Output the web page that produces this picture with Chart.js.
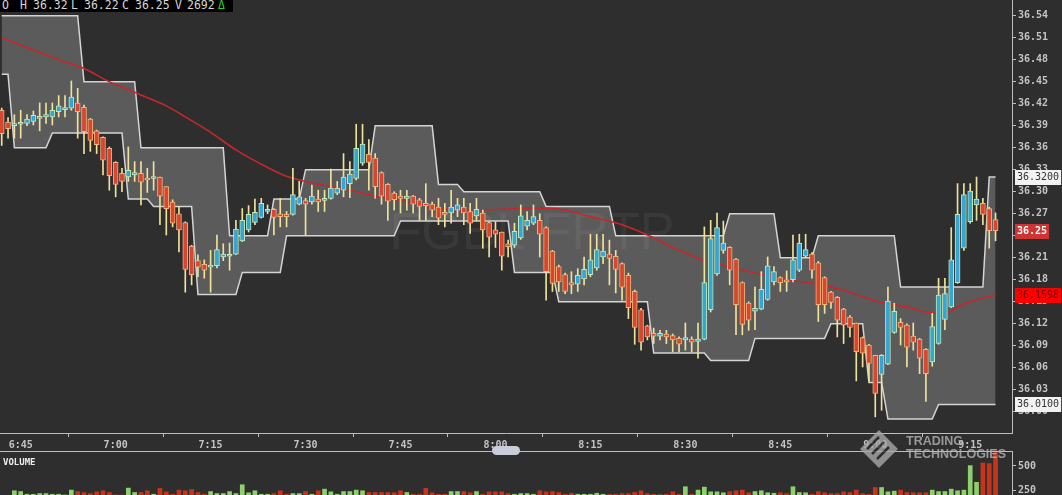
<!DOCTYPE html>
<html>
<head>
<meta charset="utf-8">
<script src="https://cdn.jsdelivr.net/npm/chart.js@4.4.1/dist/chart.umd.min.js"></script>
<style>
  html, body { margin: 0; padding: 0; background: #2e2e2e; overflow: hidden; }
  #wrap { position: relative; width: 1062px; height: 495px; }
  #main { position: absolute; left: 0; top: 0; }
  #vol { position: absolute; left: 0; top: 451px; }
  #hdr { position: absolute; left: 0; top: 0; width: 233px; height: 12px; background: #000;
         font: 11.5px "DejaVu Sans Mono", monospace; color: #d6d6d6; }
  #hdr span { position: absolute; top: -1px; line-height: 13px; }
  #handle { position: absolute; left: 492px; top: 446px; width: 28px; height: 9px;
            border-radius: 5px; background: #c9ccd9; }
  #logo { position: absolute; left: 860px; top: 430px; opacity: 0.8; }
  #logo div { position: absolute; left: 46px; top: 5px; font: bold 12.5px "Liberation Sans", sans-serif;
              color: #b4b4b4; line-height: 13px; white-space: nowrap; }
</style>
</head>
<body>
<div id="wrap">
  <canvas id="main" width="1062" height="451"></canvas>
  <canvas id="vol" width="1062" height="44"></canvas>
  <div id="hdr">
    <span style="left:2px">O</span><span style="left:20px">H</span><span style="left:33px">36.32</span>
    <span style="left:71px">L</span><span style="left:84px">36.22</span><span style="left:122px">C</span>
    <span style="left:135px">36.25</span><span style="left:175px">V</span><span style="left:187px">2692</span>
    <span style="left:218px;color:#33cc33">&Delta;</span>
  </div>
  <div id="handle"></div>
  <div id="logo">
    <svg width="40" height="40" viewBox="0 0 40 40">
      <polygon points="19,0 38,19 19,38 0,19" fill="#a8a8a8"/>
      <path d="M7 19 L19 7 M12 24 L24 12 M17 29 L29 17" stroke="#2e2e2e" stroke-width="2.5"/>
    </svg>
    <div>TRADING<br>TECHNOLOGIES</div>
  </div>
</div>
<script>
// one-minute bars starting at this time
const firstBar = '6:42';

const opens = [
  36.411,36.395,36.390,36.392,36.393,36.396,36.400,36.402,36.402,36.409,
  36.412,36.414,36.421,36.415,36.399,36.383,36.374,36.359,36.340,36.325,
  36.320,36.323,36.325,36.318,36.318,36.320,36.307,36.286,36.270,36.258,
  36.226,36.206,36.201,36.197,36.199,36.211,36.212,36.215,36.233,36.248,
  36.258,36.265,36.273,36.276,36.270,36.269,36.269,36.283,36.288,36.286,
  36.290,36.288,36.291,36.298,36.302,36.311,36.318,36.339,36.351,36.346,
  36.326,36.310,36.298,36.294,36.291,36.294,36.289,36.284,36.283,36.279,
  36.272,36.271,36.275,36.279,36.273,36.267,36.271,36.258,36.248,36.245,
  36.229,36.227,36.237,36.253,36.257,36.261,36.251,36.219,36.198,36.187,
  36.176,36.174,36.181,36.187,36.196,36.211,36.215,36.212,36.202,36.186,
  36.164,36.139,36.117,36.107,36.103,36.106,36.104,36.100,36.098,36.099,
  36.096,36.099,36.139,36.188,36.220,36.224,36.208,36.176,36.148,36.137,
  36.140,36.153,36.177,36.183,36.180,36.180,36.193,36.212,36.215,36.203,
  36.183,36.163,36.156,36.140,36.129,36.121,36.101,36.091,36.077,36.051,
  36.065,36.108,36.122,36.118,36.103,36.099,36.085,36.068,36.093,36.126,
  36.143,36.176,36.223,36.259,36.282,36.284,36.277,36.262
];
const highs = [
  36.414,36.401,36.405,36.411,36.405,36.410,36.421,36.421,36.421,36.431,
  36.431,36.451,36.441,36.418,36.400,36.384,36.375,36.361,36.341,36.332,
  36.361,36.341,36.341,36.332,36.341,36.320,36.307,36.289,36.280,36.259,
  36.227,36.214,36.207,36.220,36.241,36.229,36.230,36.261,36.277,36.281,
  36.290,36.291,36.282,36.277,36.291,36.273,36.332,36.314,36.291,36.309,
  36.302,36.302,36.331,36.314,36.352,36.341,36.392,36.392,36.371,36.352,
  36.327,36.311,36.300,36.302,36.302,36.295,36.291,36.311,36.286,36.291,
  36.284,36.302,36.291,36.291,36.284,36.291,36.275,36.259,36.259,36.245,
  36.234,36.257,36.282,36.273,36.282,36.270,36.252,36.220,36.200,36.189,
  36.191,36.195,36.211,36.242,36.242,36.242,36.234,36.220,36.203,36.189,
  36.166,36.141,36.118,36.114,36.111,36.111,36.106,36.102,36.121,36.102,
  36.121,36.252,36.261,36.271,36.260,36.225,36.209,36.177,36.150,36.170,
  36.191,36.211,36.198,36.184,36.192,36.241,36.242,36.242,36.217,36.205,
  36.184,36.164,36.157,36.141,36.131,36.121,36.102,36.092,36.077,36.078,
  36.170,36.148,36.127,36.120,36.121,36.100,36.086,36.134,36.182,36.182,
  36.251,36.311,36.311,36.311,36.320,36.291,36.279,36.271
];
const lows = [
  36.363,36.373,36.373,36.373,36.390,36.391,36.383,36.393,36.391,36.402,
  36.402,36.411,36.373,36.352,36.355,36.352,36.323,36.302,36.293,36.300,
  36.314,36.314,36.282,36.299,36.302,36.255,36.241,36.252,36.218,36.163,
  36.173,36.184,36.182,36.163,36.196,36.206,36.193,36.214,36.232,36.245,
  36.255,36.264,36.270,36.241,36.252,36.252,36.268,36.282,36.241,36.283,
  36.273,36.273,36.290,36.296,36.293,36.292,36.316,36.336,36.302,36.291,
  36.283,36.261,36.275,36.271,36.275,36.271,36.261,36.261,36.266,36.255,
  36.252,36.257,36.266,36.255,36.243,36.261,36.223,36.211,36.224,36.193,
  36.211,36.224,36.235,36.248,36.255,36.211,36.152,36.164,36.164,36.161,
  36.161,36.164,36.173,36.184,36.193,36.202,36.173,36.162,36.152,36.127,
  36.092,36.084,36.098,36.093,36.098,36.093,36.082,36.082,36.084,36.082,
  36.073,36.098,36.136,36.186,36.216,36.173,36.105,36.105,36.111,36.112,
  36.139,36.152,36.173,36.164,36.164,36.177,36.191,36.210,36.182,36.123,
  36.134,36.141,36.102,36.093,36.102,36.042,36.061,36.042,35.993,36.002,
  36.064,36.107,36.091,36.061,36.084,36.052,36.014,36.062,36.092,36.112,
  36.142,36.175,36.220,36.257,36.261,36.255,36.223,36.233
];
const closes = [
  36.379,36.386,36.392,36.394,36.399,36.404,36.402,36.405,36.411,36.417,
  36.414,36.429,36.409,36.382,36.370,36.364,36.343,36.322,36.310,36.314,
  36.329,36.326,36.313,36.316,36.320,36.294,36.277,36.257,36.248,36.194,
  36.187,36.197,36.193,36.200,36.221,36.215,36.214,36.249,36.261,36.269,
  36.272,36.284,36.276,36.265,36.266,36.266,36.296,36.293,36.283,36.294,
  36.286,36.291,36.305,36.305,36.320,36.324,36.359,36.365,36.340,36.307,
  36.294,36.287,36.289,36.291,36.294,36.283,36.280,36.281,36.275,36.264,
  36.269,36.279,36.282,36.271,36.257,36.276,36.248,36.238,36.242,36.212,
  36.225,36.246,36.267,36.261,36.266,36.242,36.191,36.175,36.177,36.164,
  36.173,36.186,36.194,36.207,36.221,36.219,36.209,36.194,36.170,36.142,
  36.115,36.095,36.102,36.103,36.107,36.102,36.098,36.092,36.101,36.095,
  36.099,36.176,36.236,36.251,36.230,36.193,36.146,36.119,36.125,36.141,
  36.167,36.199,36.191,36.176,36.177,36.207,36.230,36.221,36.193,36.146,
  36.146,36.149,36.125,36.118,36.115,36.082,36.080,36.066,36.025,36.077,
  36.151,36.137,36.115,36.088,36.095,36.073,36.052,36.116,36.159,36.161,
  36.207,36.269,36.296,36.301,36.290,36.269,36.247,36.247
];
const volumes = [
  190,195,242,234,206,206,213,213,206,206,
  198,249,234,224,213,231,242,224,199,198,
  270,224,224,242,206,267,231,206,249,242,
  255,224,206,234,213,213,234,213,305,221,
  242,206,206,213,242,206,213,213,234,206,
  242,259,231,206,234,234,249,242,224,224,
  224,224,221,242,224,206,206,267,221,206,
  206,234,234,234,221,234,206,231,231,231,
  213,206,213,213,206,242,231,234,224,206,
  216,206,206,206,216,206,206,206,213,213,
  224,242,213,206,198,206,231,206,284,206,
  249,280,231,231,221,234,242,249,221,234,
  242,221,216,221,213,284,224,221,206,234,
  221,213,213,231,224,249,213,205,276,276,
  231,238,249,224,221,221,221,249,234,234,
  259,242,249,504,330,532,525,650
];
const bandUpper = [
  36.54,36.54,36.54,36.54,36.54,36.54,36.54,36.54,36.54,36.54,
  36.54,36.54,36.54,36.45,36.45,36.45,36.45,36.45,36.45,36.45,
  36.45,36.45,36.36,36.36,36.36,36.36,36.36,36.36,36.36,36.36,
  36.36,36.36,36.36,36.36,36.36,36.36,36.24,36.24,36.24,36.24,
  36.24,36.24,36.24,36.29,36.29,36.29,36.29,36.29,36.33,36.33,
  36.33,36.33,36.33,36.33,36.33,36.33,36.33,36.33,36.33,36.39,
  36.39,36.39,36.39,36.39,36.39,36.39,36.39,36.39,36.39,36.31,
  36.31,36.31,36.31,36.30,36.30,36.30,36.30,36.30,36.30,36.30,
  36.30,36.30,36.30,36.30,36.30,36.30,36.28,36.28,36.28,36.28,
  36.28,36.28,36.28,36.28,36.28,36.28,36.28,36.24,36.24,36.24,
  36.24,36.24,36.24,36.24,36.24,36.24,36.24,36.24,36.24,36.24,
  36.24,36.24,36.24,36.24,36.24,36.27,36.27,36.27,36.27,36.27,
  36.27,36.27,36.27,36.21,36.21,36.21,36.21,36.21,36.21,36.24,
  36.24,36.24,36.24,36.24,36.24,36.24,36.24,36.24,36.24,36.24,
  36.24,36.24,36.17,36.17,36.17,36.17,36.17,36.17,36.17,36.17,
  36.17,36.17,36.17,36.17,36.17,36.17,36.32,36.32
];
const bandLower = [
  36.46,36.46,36.36,36.36,36.36,36.36,36.36,36.36,36.38,36.38,
  36.38,36.38,36.38,36.38,36.38,36.38,36.38,36.38,36.38,36.38,
  36.29,36.29,36.29,36.29,36.28,36.28,36.28,36.28,36.28,36.28,
  36.28,36.16,36.16,36.16,36.16,36.16,36.16,36.16,36.19,36.19,
  36.19,36.19,36.19,36.19,36.19,36.24,36.24,36.24,36.24,36.24,
  36.24,36.24,36.24,36.24,36.24,36.24,36.24,36.24,36.24,36.24,
  36.24,36.24,36.24,36.26,36.26,36.26,36.26,36.26,36.26,36.26,
  36.26,36.26,36.26,36.26,36.26,36.26,36.26,36.26,36.26,36.26,
  36.26,36.19,36.19,36.19,36.19,36.19,36.19,36.19,36.15,36.15,
  36.15,36.15,36.15,36.15,36.15,36.15,36.15,36.15,36.15,36.15,
  36.15,36.15,36.15,36.08,36.08,36.08,36.08,36.08,36.08,36.08,
  36.08,36.08,36.07,36.07,36.07,36.07,36.07,36.07,36.07,36.10,
  36.10,36.10,36.10,36.10,36.10,36.10,36.10,36.10,36.10,36.10,
  36.10,36.12,36.12,36.12,36.12,36.12,36.12,36.04,36.04,36.04,
  35.99,35.99,35.99,35.99,35.99,35.99,35.99,35.99,36.01,36.01,
  36.01,36.01,36.01,36.01,36.01,36.01,36.01,36.01
];
// moving average, read at these bar numbers
const maBars = [0,9,13,17,22,26,29,33,37,42,45,48,52,55,58,64,69,74,79,84,89,93,98,102,107,111,115,120,125,129,134,138,143,147,149,152,157];
const maValues = [36.510,36.480,36.468,36.450,36.432,36.417,36.402,36.381,36.357,36.333,36.321,36.314,36.307,36.302,36.296,36.287,36.278,36.275,36.276,36.278,36.275,36.266,36.255,36.241,36.220,36.206,36.198,36.187,36.179,36.174,36.163,36.151,36.143,36.135,36.135,36.147,36.1598];

const priceTicks = [36.00,36.03,36.06,36.09,36.12,36.15,36.18,36.21,36.24,36.27,36.30,36.33,36.36,36.39,36.42,36.45,36.48,36.51,36.54];
const volumeTicks = [250, 500];
const timeTicks = ['6:45','7:00','7:15','7:30','7:45','8:00','8:15','8:30','8:45','9:00','9:15'];

function toMinutes(s) {
  const [h, m] = s.split(':').map(Number);
  return h * 60 + m;
}

const t0 = toMinutes(firstBar);
const xs = opens.map((_, i) => t0 + i);
const isUp = opens.map((o, i) => closes[i] >= o);
const last = opens.length - 1;

const xMin = t0 - 0.27;
const xMax = xMin + 159.87;
const axisGrey = '#bdbdbd';
const tickFont = { family: 'DejaVu Sans Mono', size: 10, weight: 'bold' };

// keep the plot area flush with the canvas edges
function fitRightAxis(scale) {
  scale.width = 50;
  scale.paddingTop = 0;
  scale.paddingBottom = 0;
}

const watermark = {
  id: 'watermark',
  beforeDatasetsDraw(chart) {
    const ctx = chart.ctx;
    ctx.save();
    ctx.font = '52px "Liberation Sans"';
    ctx.fillStyle = 'rgba(255,255,255,0.055)';
    ctx.textAlign = 'center';
    ctx.fillText('FGBL FRTP', 532, 249);
    ctx.restore();
  }
};

const markers = {
  id: 'markers',
  afterDraw(chart) {
    const ctx = chart.ctx;
    const y = chart.scales.y;
    const list = [
      { v: bandUpper[last], txt: bandUpper[last].toFixed(4), bg: '#f2f2f2', fg: '#333', bold: false },
      { v: maValues[maValues.length - 1], txt: maValues[maValues.length - 1].toFixed(4), bg: '#ff0000', fg: '#7a0000', bold: false },
      { v: bandLower[last], txt: bandLower[last].toFixed(4), bg: '#f2f2f2', fg: '#333', bold: false },
      { v: closes[last], txt: closes[last].toFixed(2), bg: '#cf3434', fg: '#ffffff', bold: true }
    ];
    ctx.save();
    ctx.textBaseline = 'middle';
    list.forEach(m => {
      const py = Math.round(y.getPixelForValue(m.v));
      ctx.font = (m.bold ? 'bold ' : '') + '10px "DejaVu Sans Mono"';
      const w = ctx.measureText(m.txt).width + 4;
      ctx.fillStyle = m.bg;
      ctx.fillRect(1015, py - 7, w, 15);
      ctx.fillStyle = m.fg;
      ctx.fillText(m.txt, 1017, py + 0.5);
    });
    ctx.restore();
  }
};

new Chart(document.getElementById('main'), {
  type: 'bar',
  data: {
    datasets: [
      {
        type: 'line',
        data: bandUpper.map((v, i) => ({ x: xs[i], y: v })),
        borderColor: '#d4d4d4',
        borderWidth: 1.5,
        pointRadius: 0,
        fill: '+1',
        backgroundColor: 'rgba(255,255,255,0.22)',
        order: 5
      },
      {
        type: 'line',
        data: bandLower.map((v, i) => ({ x: xs[i], y: v })),
        borderColor: '#d4d4d4',
        borderWidth: 1.5,
        pointRadius: 0,
        fill: false,
        order: 4
      },
      {
        type: 'line',
        data: maBars.map((b, k) => ({ x: t0 + b, y: maValues[k] })),
        borderColor: '#c4282c',
        borderWidth: 1.6,
        pointRadius: 0,
        cubicInterpolationMode: 'monotone',
        fill: false,
        order: 3
      },
      {
        data: xs.map((x, i) => ({ x: x, y: [lows[i], highs[i]] })),
        backgroundColor: '#efe39c',
        barThickness: 1,
        grouped: false,
        order: 2
      },
      {
        data: xs.map((x, i) => ({ x: x, y: [opens[i], closes[i]] })),
        backgroundColor: isUp.map(u => u ? '#33a6d4' : '#d8462e'),
        borderColor: isUp.map(u => u ? '#c4e8b8' : '#f3b27c'),
        borderWidth: 1,
        borderSkipped: false,
        barThickness: 5,
        minBarLength: 2,
        grouped: false,
        order: 1
      }
    ]
  },
  options: {
    responsive: false,
    animation: false,
    devicePixelRatio: 1,
    events: [],
    layout: { padding: 0 },
    plugins: { legend: { display: false }, tooltip: { enabled: false } },
    scales: {
      x: {
        type: 'linear',
        offset: false,
        min: xMin,
        max: xMax,
        afterFit(scale) { scale.height = 18; scale.paddingLeft = 0; scale.paddingRight = 0; },
        afterBuildTicks(scale) { scale.ticks = timeTicks.map(t => ({ value: toMinutes(t) })); },
        grid: { display: true, drawOnChartArea: false, drawTicks: true, tickLength: 4, color: axisGrey },
        border: { display: true, color: axisGrey, width: 1 },
        ticks: {
          autoSkip: false, maxRotation: 0, padding: 2, color: '#c4c4c4', font: tickFont,
          callback: v => timeTicks[timeTicks.findIndex(t => toMinutes(t) === v)]
        }
      },
      y: {
        position: 'right',
        min: 35.971,
        max: 36.5614,
        afterFit: fitRightAxis,
        afterBuildTicks(scale) { scale.ticks = priceTicks.map(v => ({ value: v })); },
        grid: { display: true, drawOnChartArea: false, drawTicks: true, tickLength: 4, color: axisGrey },
        border: { display: true, color: axisGrey, width: 1 },
        ticks: { autoSkip: false, padding: 2, color: '#c4c4c4', font: tickFont, callback: v => v.toFixed(2) }
      }
    }
  },
  plugins: [watermark, markers]
});

const volFrame = {
  id: 'volFrame',
  afterDraw(chart) {
    const ctx = chart.ctx;
    ctx.save();
    ctx.strokeStyle = axisGrey;
    ctx.lineWidth = 1;
    ctx.beginPath();
    ctx.moveTo(0, 0.5);
    ctx.lineTo(chart.chartArea.right, 0.5);
    ctx.stroke();
    ctx.font = 'bold 9px "DejaVu Sans Mono"';
    ctx.fillStyle = '#ececec';
    ctx.textBaseline = 'middle';
    ctx.fillText('VOLUME', 3, 12);
    ctx.restore();
  }
};

new Chart(document.getElementById('vol'), {
  type: 'bar',
  data: {
    datasets: [{
      data: xs.map((x, i) => ({ x: x, y: volumes[i] })),
      backgroundColor: isUp.map(u => u ? '#8ed06c' : '#c6341c'),
      barThickness: 4,
      grouped: false
    }]
  },
  options: {
    responsive: false,
    animation: false,
    devicePixelRatio: 1,
    events: [],
    layout: { padding: 0 },
    plugins: { legend: { display: false }, tooltip: { enabled: false } },
    scales: {
      x: { type: 'linear', offset: false, min: xMin, max: xMax, display: false },
      y: {
        position: 'right',
        min: 198,
        max: 656,
        afterFit: fitRightAxis,
        afterBuildTicks(scale) { scale.ticks = volumeTicks.map(v => ({ value: v })); },
        grid: { display: true, drawOnChartArea: false, drawTicks: true, tickLength: 4, color: axisGrey },
        border: { display: true, color: axisGrey, width: 1 },
        ticks: { autoSkip: false, padding: 2, color: '#c4c4c4', font: tickFont }
      }
    }
  },
  plugins: [volFrame]
});
</script>
</body>
</html>
